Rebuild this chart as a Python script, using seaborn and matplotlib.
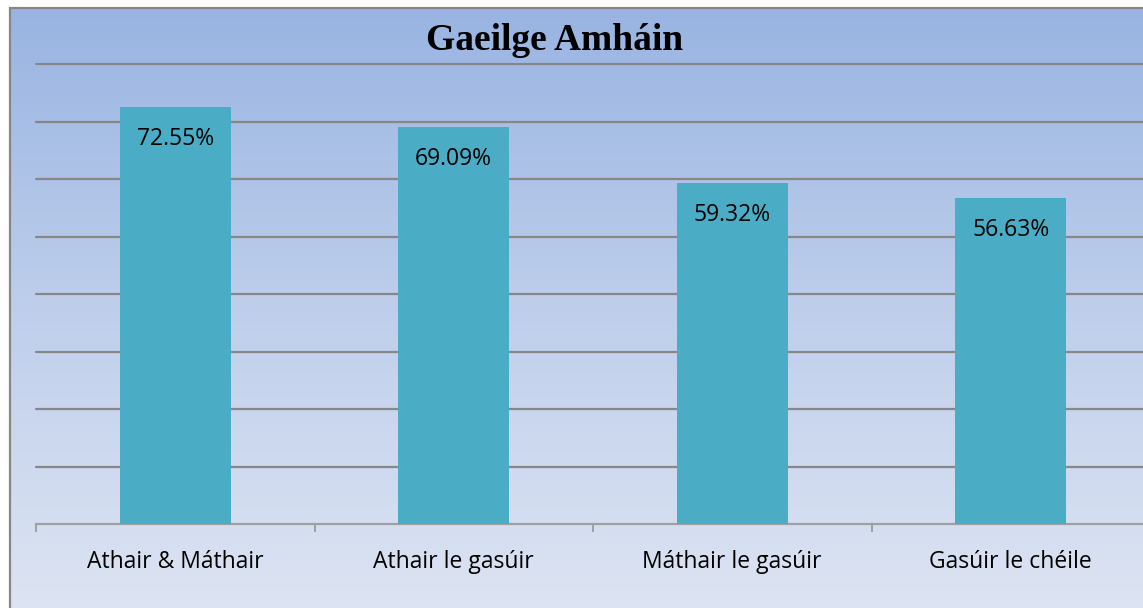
import numpy as np
import pandas as pd
import seaborn as sns
import matplotlib.pyplot as plt
from matplotlib.colors import LinearSegmentedColormap
from matplotlib.patches import Rectangle

# Data
categories = ['Athair & Máthair', 'Athair le gasúir', 'Máthair le gasúir', 'Gasúir le chéile']
percentages = [72.55, 69.09, 59.32, 56.63]
value_labels = ['72.55%', '69.09%', '59.32%', '56.63%']
title = 'Gaeilge Amháin'

df = pd.DataFrame({'category': categories, 'pct': percentages})

sns.set_theme(style='white')
plt.rcParams['font.family'] = ['Open Sans', 'DejaVu Sans']

W, H = 1143, 608
fig = plt.figure(figsize=(W / 100, H / 100), dpi=100)
fig.patch.set_facecolor('white')

# chart area with vertical gradient, cropped at right and bottom
bg = fig.add_axes([10 / W, -0.02, 1.0, 1 - 8 / H + 0.02])
grad = LinearSegmentedColormap.from_list('bg', ['#DEE5F3', '#BFCFEB', '#99B4E2'])
bg.imshow(np.linspace(0, 1, 256).reshape(-1, 1), aspect='auto', cmap=grad,
          origin='lower', extent=[0, 1, 0, 1])
bg.set_xlim(0, 1)
bg.set_ylim(0, 1)
bg.axis('off')
bg.add_patch(Rectangle((0, 0), 1.2, 1, transform=bg.transAxes, fill=False,
                       edgecolor='#878787', lw=1.6, clip_on=False))

# plot area
ax = fig.add_axes([36 / W, (H - 524) / H, 1114 / W, 460 / H])
ax.patch.set_alpha(0)
sns.barplot(data=df, x='category', y='pct', color='#4BACC6', saturation=1,
            width=0.4, linewidth=0, edgecolor='none', ax=ax, zorder=3)

ax.set_xlim(-0.5, 3.5)
ax.set_ylim(0, 80)
for yv in np.arange(10, 81, 10):
    ax.axhline(yv, color='#878787', lw=1.6, zorder=0, clip_on=False)
ax.tick_params(axis='y', left=False, labelleft=False)
ax.set_xlabel('')
ax.set_ylabel('')

for s in ['top', 'right', 'left']:
    ax.spines[s].set_visible(False)
ax.spines['bottom'].set_color('#A0A0A0')
ax.spines['bottom'].set_linewidth(1.6)

ax.set_xticks(range(len(categories)))
ax.set_xticklabels(categories, fontsize=16.5, color='black')
ax.tick_params(axis='x', which='major', length=0, pad=18.5)
ax.set_xticks(np.arange(-0.5, 4.0, 1), minor=True)
ax.tick_params(axis='x', which='minor', length=6, width=1.4, color='#A0A0A0',
               direction='out', bottom=True)

for i, (v, lab) in enumerate(zip(percentages, value_labels)):
    ax.annotate(lab, (i, v), xytext=(0, -23), textcoords='offset points',
                ha='center', va='center', fontsize=16.5, color='black', zorder=4)

fig.text(555 / W, 1 - 40 / H, title, ha='center', va='center', fontsize=27,
         fontweight='bold', color='black',
         family=['Liberation Serif', 'DejaVu Serif'])

fig.savefig('out.png', dpi=100)
